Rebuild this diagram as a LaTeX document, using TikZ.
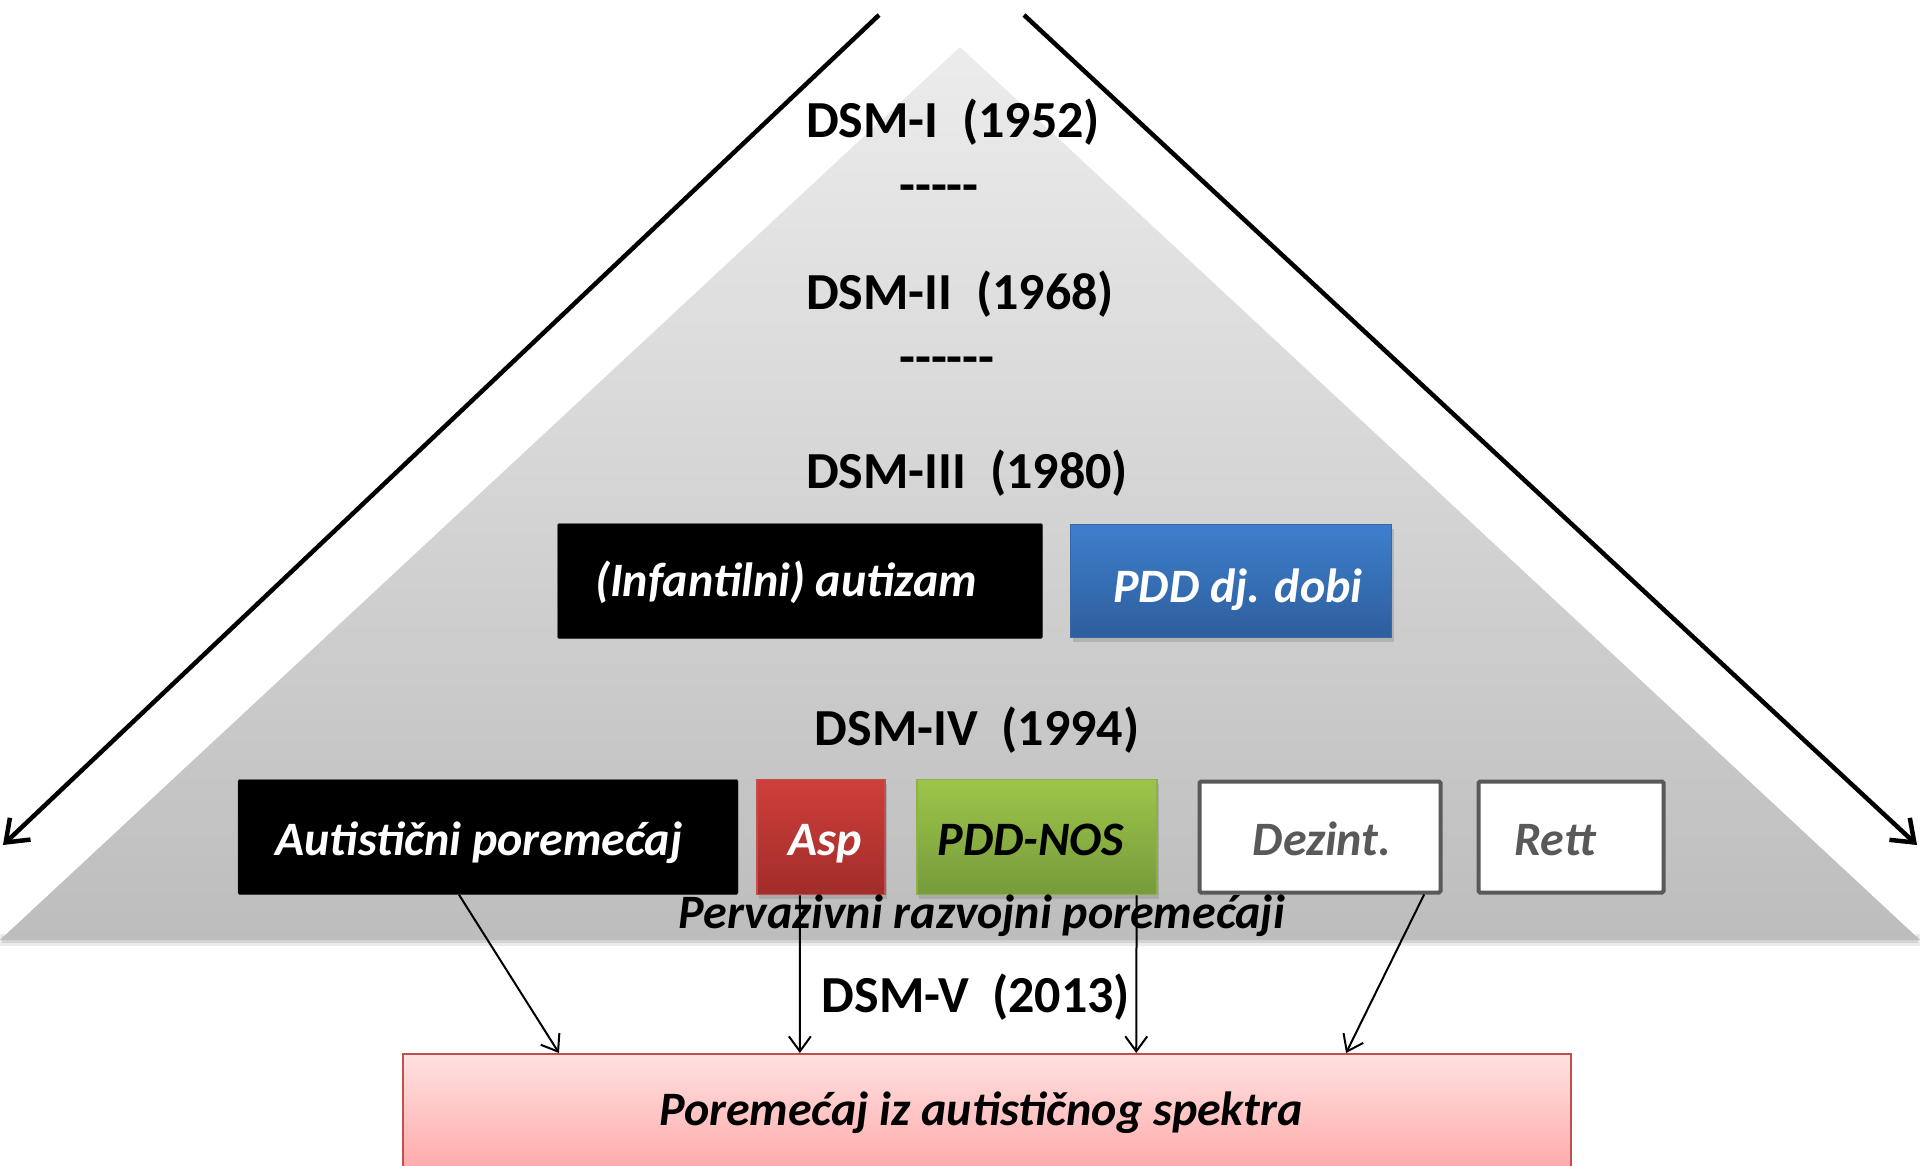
\documentclass[tikz,border=0pt]{standalone}
\usepackage{fontspec}
\setmainfont{Carlito}
\usetikzlibrary{arrows.meta,calc,shadows}
\definecolor{pyrtop}{HTML}{ECECEC}
\definecolor{pyrbot}{HTML}{BDBDBD}
\definecolor{bluetop}{HTML}{3D7FCD}
\definecolor{bluebot}{HTML}{2E5E9C}
\definecolor{blueedge}{HTML}{3868A8}
\definecolor{redtop}{HTML}{CF3F3B}
\definecolor{redbot}{HTML}{A12C29}
\definecolor{rededge}{HTML}{C0504D}
\definecolor{greentop}{HTML}{9DC54A}
\definecolor{greenbot}{HTML}{779A3B}
\definecolor{greenedge}{HTML}{8DB048}
\definecolor{pinktop}{HTML}{FFE1E1}
\definecolor{pinkbot}{HTML}{FFA6A6}
\definecolor{grayedge}{HTML}{595959}
\begin{document}
\begin{tikzpicture}[x=1pt,y=-1pt,
  dsmlabel/.style={font=\fontsize{52}{62}\selectfont\bfseries, inner sep=0pt},
  boxtext/.style={font=\fontsize{48}{57}\selectfont\bfseries\itshape},
  catbox/.style={boxtext, minimum height=115pt, inner sep=0pt, rounded corners=1.5pt, text height=36pt, text depth=0pt},
  blackbox/.style={catbox, fill=black, draw=black!80, text=white},
  whitebox/.style={catbox, fill=white, draw=grayedge, line width=4pt, text=grayedge, minimum height=111pt},
  bigarrow/.style={line width=4.5pt, -{Straight Barb[length=20pt,width=30pt,line width=4.5pt]}},
  thinarrow/.style={line width=2pt, -{Straight Barb[length=15pt,width=22pt,line width=2pt]}},
  softshadow/.style={drop shadow={opacity=0.35, shadow xshift=2pt, shadow yshift=-4pt}}
]
\useasboundingbox (0,0) rectangle (1920,1165);
\clip (0,0) rectangle (1920,1165);
% pyramid shadow
\fill[black, opacity=0.08] (0,946) -- (1920,946) -- (1920,934) -- (0,934) -- cycle;
\fill[black, opacity=0.10] (2,943) -- (1918,943) -- (1918,936) -- (2,936) -- cycle;
% pyramid
\shade[top color=pyrtop, bottom color=pyrbot] (960,47) -- (1920,940) -- (0,940) -- cycle;

% big arrows
\coordinate (lstart) at (879,15);
\coordinate (lend) at (3,845);
\coordinate (rstart) at (1024,15);
\coordinate (rend) at (1917,845);
\draw[bigarrow] (lstart) -- (lend);
\draw[bigarrow] (rstart) -- (rend);

% DSM labels
\node[dsmlabel] (dsm1) at (953,122) {DSM-I\ \ (1952)};
\node[dsmlabel] (dash1) at (939,194) {-{}-{}-{}-{}-};
\node[dsmlabel] (dsm2) at (960,294) {DSM-II\ \ (1968)};
\node[dsmlabel] (dash2) at (947,366) {-{}-{}-{}-{}-{}-};
\node[dsmlabel] (dsm3) at (967,473) {DSM-III\ \ (1980)};
\node[dsmlabel] (dsm4) at (977,730) {DSM-IV\ \ (1994)};

% DSM-III row
\node[blackbox, minimum width=485pt, text height=30pt] (inf) at (800,581) {\hspace*{-28pt}(Infantilni) autizam};
\node[catbox, minimum width=321pt, minimum height=113pt, text height=43pt, top color=bluetop, bottom color=bluebot, draw=blueedge, line width=1.5pt, text=white, rounded corners=0pt, softshadow] (pdd) at (1231,581) {\hspace*{14pt}PDD dj. dobi};

% DSM-IV row
\node[blackbox, minimum width=500pt] (aut) at (488,837) {\hspace*{-18pt}Autistični poremećaj};
\node[catbox, minimum width=128pt, top color=redtop, bottom color=redbot, draw=rededge, line width=1.5pt, text=white, rounded corners=0pt, softshadow] (asp) at (821,837) {\hspace*{8pt}Asp};
\node[catbox, minimum width=240pt, top color=greentop, bottom color=greenbot, draw=greenedge, line width=1.5pt, text=black, rounded corners=0pt, softshadow] (nos) at (1037,837) {\hspace*{-12pt}PDD-NOS};
\node[whitebox, minimum width=241pt] (dez) at (1320,837) {\hspace*{4pt}Dezint.};
\node[whitebox, minimum width=185pt] (rett) at (1571,837) {\hspace*{-32pt}Rett};

\node[boxtext, inner sep=0pt] (perv) at (982,916) {Pervazivni razvojni poremećaji};
\node[dsmlabel] (dsm5) at (976,997) {DSM-V\ \ (2013)};

% bottom box
\node[minimum width=1168pt, minimum height=160pt, anchor=north, top color=pinktop, bottom color=pinkbot!90!red, draw=rededge, line width=1.5pt, inner sep=0pt] (spec) at (987,1053) {};
\node[boxtext, inner sep=0pt] (spectext) at (981,1113) {Poremećaj iz autističnog spektra};

% thin arrows
\draw[thinarrow] ($(aut.south west)!0.442!(aut.south east)$) -- ($(spec.north west)!0.134!(spec.north east)$);
\draw[thinarrow] ($(asp.south west)!0.336!(asp.south east)$) -- ($(spec.north west)!0.34!(spec.north east)$);
\draw[thinarrow] ($(nos.south west)!0.9125!(nos.south east)$) -- ($(spec.north west)!0.6276!(spec.north east)$);
\draw[thinarrow] ($(dez.south west)!0.925!(dez.south east)$) -- ($(spec.north west)!0.807!(spec.north east)$);
\end{tikzpicture}
\end{document}
